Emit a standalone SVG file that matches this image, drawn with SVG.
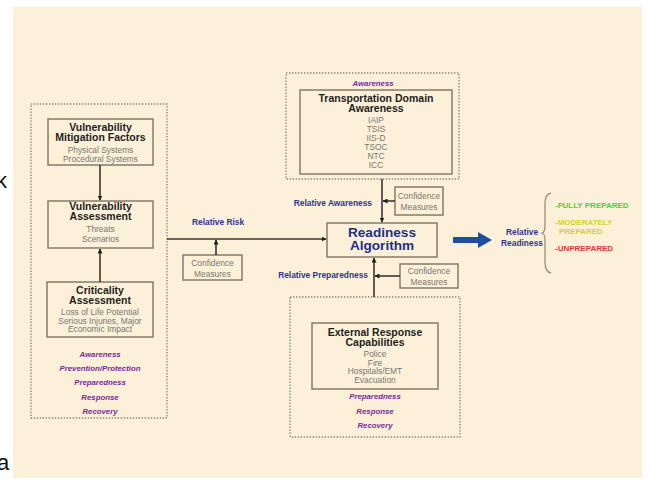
<svg xmlns="http://www.w3.org/2000/svg" width="652" height="483" viewBox="0 0 652 483">
<style>
.bg{fill:#FCF1D8}
.dot{fill:none;stroke:#8c8478;stroke-width:1.3;stroke-dasharray:1.4 1.6}
.box{fill:none;stroke:#857b6b;stroke-width:1.5}
.t{font-family:"Liberation Sans",Arial,sans-serif;font-weight:bold;font-size:10.5px;fill:#1e1e1e;text-anchor:middle}
.b{font-family:"Liberation Sans",Arial,sans-serif;font-size:8.4px;fill:#7a7670;text-anchor:middle}
.p{font-family:"Liberation Sans",Arial,sans-serif;font-weight:bold;font-style:italic;font-size:7.8px;fill:#7a2a9e;text-anchor:middle}
.l{font-family:"Liberation Sans",Arial,sans-serif;font-weight:bold;font-size:8.4px;fill:#2f3596}
.ra{font-family:"Liberation Sans",Arial,sans-serif;font-weight:bold;font-size:13.6px;fill:#1d2f8a;text-anchor:middle}
.lg{font-family:"Liberation Sans",Arial,sans-serif;font-weight:bold;font-size:8px}
.ln{fill:none;stroke:#3a3630;stroke-width:1.6}
</style>
<defs>
<marker id="ah" viewBox="0 0 10 10" refX="9" refY="5" markerWidth="5" markerHeight="5" orient="auto-start-reverse" markerUnits="userSpaceOnUse">
<path d="M0,0 L10,5 L0,10 z" fill="#1e1e1e"/>
</marker>
</defs>
<rect x="0" y="0" width="652" height="483" fill="#ffffff"/>
<rect class="bg" x="13" y="7" width="629" height="471"/>
<text x="-4" y="188" font-family="Liberation Sans,Arial,sans-serif" font-size="22" fill="#111">k</text>
<text x="-3" y="470" font-family="Liberation Sans,Arial,sans-serif" font-size="22" fill="#111">a</text>

<g id="left-group">
<rect class="dot" x="31" y="104" width="136" height="314"/>
<text class="p" x="100" y="357">Awareness</text>
<text class="p" x="100" y="371">Prevention/Protection</text>
<text class="p" x="100" y="385">Preparedness</text>
<text class="p" x="100" y="400">Response</text>
<text class="p" x="100" y="414">Recovery</text>
</g>
<g id="mitigation">
<rect class="box" x="48" y="119" width="105" height="46"/>
<text class="t" x="100.5" y="131">Vulnerability</text>
<text class="t" x="100.5" y="141">Mitigation Factors</text>
<text class="b" x="100.5" y="153">Physical Systems</text>
<text class="b" x="100.5" y="162">Procedural Systems</text>
</g>
<g id="vuln-assessment">
<rect class="box" x="48" y="201" width="105" height="47"/>
<text class="t" x="100.5" y="210">Vulnerability</text>
<text class="t" x="100.5" y="220">Assessment</text>
<text class="b" x="100.5" y="232">Threats</text>
<text class="b" x="100.5" y="242">Scenarios</text>
</g>
<g id="criticality">
<rect class="box" x="47" y="282" width="106" height="55"/>
<text class="t" x="100" y="294">Criticality</text>
<text class="t" x="100" y="304">Assessment</text>
<text class="b" x="100" y="315">Loss of Life Potential</text>
<text class="b" x="100" y="323.5">Serious Injuries, Major</text>
<text class="b" x="100" y="332">Economic Impact</text>
</g>

<g id="top-group">
<rect class="dot" x="286" y="73" width="173" height="106"/>
<text class="p" x="373" y="86">Awareness</text>
</g>
<g id="transport">
<rect class="box" x="300" y="90" width="152" height="84"/>
<text class="t" x="376" y="102">Transportation Domain</text>
<text class="t" x="376" y="112">Awareness</text>
<text class="b" x="376" y="123">IAIP</text>
<text class="b" x="376" y="132">TSIS</text>
<text class="b" x="376" y="141">IIS-D</text>
<text class="b" x="376" y="150">TSOC</text>
<text class="b" x="376" y="159">NTC</text>
<text class="b" x="376" y="168">ICC</text>
</g>

<g id="bottom-group">
<rect class="dot" x="290" y="297" width="170" height="140"/>
<text class="p" x="375" y="399">Preparedness</text>
<text class="p" x="375" y="414">Response</text>
<text class="p" x="375" y="428">Recovery</text>
</g>
<g id="external">
<rect class="box" x="312" y="323" width="126" height="66"/>
<text class="t" x="375" y="336">External Response</text>
<text class="t" x="375" y="345.5">Capabilities</text>
<text class="b" x="375" y="357">Police</text>
<text class="b" x="375" y="365.5">Fire</text>
<text class="b" x="375" y="374">Hospitals/EMT</text>
<text class="b" x="375" y="383">Evacuation</text>
</g>

<g id="readiness">
<rect class="box" x="327" y="223" width="110" height="34"/>
<text class="ra" x="382" y="236.5">Readiness</text>
<text class="ra" x="382" y="250">Algorithm</text>
</g>

<g id="conf-left">
<rect class="box" x="183" y="255" width="59" height="25"/>
<text class="b" x="212.5" y="266">Confidence</text>
<text class="b" x="212.5" y="277">Measures</text>
</g>
<g id="conf-top">
<rect class="box" x="395" y="187" width="48" height="28"/>
<text class="b" x="419" y="199">Confidence</text>
<text class="b" x="419" y="210">Measures</text>
</g>
<g id="conf-bottom">
<rect class="box" x="400" y="264" width="58" height="24"/>
<text class="b" x="429" y="274">Confidence</text>
<text class="b" x="429" y="285">Measures</text>
</g>

<g id="connectors">
<line class="ln" x1="100" y1="165" x2="100" y2="200" marker-end="url(#ah)"/>
<line class="ln" x1="100" y1="282" x2="100" y2="249" marker-end="url(#ah)"/>
<line class="ln" x1="167" y1="239" x2="326" y2="239" marker-end="url(#ah)"/>
<line class="ln" x1="216" y1="255" x2="216" y2="240" marker-end="url(#ah)"/>
<line class="ln" x1="382" y1="179" x2="382" y2="222" marker-end="url(#ah)"/>
<line class="ln" x1="395" y1="201" x2="383" y2="201" marker-end="url(#ah)"/>
<line class="ln" x1="374" y1="297" x2="374" y2="258" marker-end="url(#ah)"/>
<line class="ln" x1="400" y1="276" x2="375" y2="276" marker-end="url(#ah)"/>
<path d="M453,237 L478,237 L478,232 L492,240 L478,248 L478,243 L453,243 z" fill="#1f4f9c"/>
</g>

<g id="labels">
<text class="l" x="192" y="225">Relative Risk</text>
<text class="l" x="372" y="206" text-anchor="end">Relative Awareness</text>
<text class="l" x="368" y="278" text-anchor="end">Relative Preparedness</text>
<text class="l" x="522" y="235" text-anchor="middle">Relative</text>
<text class="l" x="522" y="246" text-anchor="middle">Readiness</text>
</g>

<g id="legend">
<path d="M551,193 Q545,194 545,204 L545,226 Q545,232 542,233 Q545,234 545,240 L545,262 Q545,272 551,273" fill="none" stroke="#9a8f80" stroke-width="1.3"/>
<text class="lg" x="555" y="208" fill="#4fcf3a">-FULLY PREPARED</text>
<text class="lg" x="555" y="225" fill="#d8d030">-MODERATELY</text>
<text class="lg" x="559" y="234" fill="#d8d030">PREPARED</text>
<text class="lg" x="555" y="251" fill="#e2343a">-UNPREPARED</text>
</g>
</svg>
